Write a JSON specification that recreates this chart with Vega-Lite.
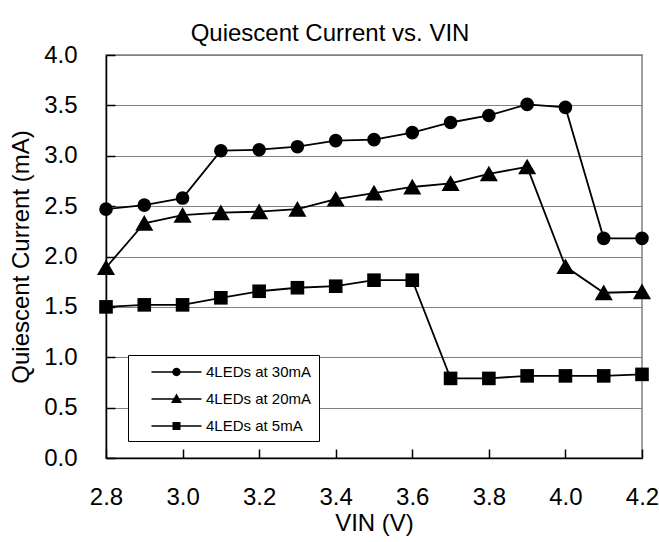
{
  "$schema": "https://vega.github.io/schema/vega-lite/v6.json",
  "autosize": {"type": "none"},
  "width": 536,
  "height": 403,
  "padding": {"left": 106, "top": 55, "right": 17, "bottom": 84},
  "background": "white",
  "title": {
    "text": "Quiescent Current vs. VIN",
    "fontSize": 24,
    "fontWeight": "normal",
    "font": "Liberation Sans",
    "color": "black",
    "anchor": "middle",
    "frame": "group",
    "dx": -44,
    "dy": 15,
    "offset": 12
  },
  "config": {
    "view": {"stroke": "#a0a0a0", "strokeWidth": 2},
    "axis": {
      "labelFont": "Liberation Sans",
      "titleFont": "Liberation Sans",
      "labelFontSize": 24,
      "titleFontSize": 24,
      "titleFontWeight": "normal",
      "labelColor": "black",
      "titleColor": "black",
      "domainColor": "black",
      "domainWidth": 1.5,
      "tickColor": "black",
      "tickWidth": 1.5,
      "gridColor": "#808080",
      "gridWidth": 1
    }
  },
  "data": {
    "values": [
      {"V": 2.8, "I": 2.47, "series": "4LEDs at 30mA"},
      {"V": 2.9, "I": 2.51, "series": "4LEDs at 30mA"},
      {"V": 3.0, "I": 2.58, "series": "4LEDs at 30mA"},
      {"V": 3.1, "I": 3.05, "series": "4LEDs at 30mA"},
      {"V": 3.2, "I": 3.06, "series": "4LEDs at 30mA"},
      {"V": 3.3, "I": 3.09, "series": "4LEDs at 30mA"},
      {"V": 3.4, "I": 3.15, "series": "4LEDs at 30mA"},
      {"V": 3.5, "I": 3.16, "series": "4LEDs at 30mA"},
      {"V": 3.6, "I": 3.23, "series": "4LEDs at 30mA"},
      {"V": 3.7, "I": 3.33, "series": "4LEDs at 30mA"},
      {"V": 3.8, "I": 3.40, "series": "4LEDs at 30mA"},
      {"V": 3.9, "I": 3.51, "series": "4LEDs at 30mA"},
      {"V": 4.0, "I": 3.48, "series": "4LEDs at 30mA"},
      {"V": 4.1, "I": 2.18, "series": "4LEDs at 30mA"},
      {"V": 4.2, "I": 2.18, "series": "4LEDs at 30mA"},
      {"V": 2.8, "I": 1.89, "series": "4LEDs at 20mA"},
      {"V": 2.9, "I": 2.33, "series": "4LEDs at 20mA"},
      {"V": 3.0, "I": 2.41, "series": "4LEDs at 20mA"},
      {"V": 3.1, "I": 2.435, "series": "4LEDs at 20mA"},
      {"V": 3.2, "I": 2.445, "series": "4LEDs at 20mA"},
      {"V": 3.3, "I": 2.47, "series": "4LEDs at 20mA"},
      {"V": 3.4, "I": 2.57, "series": "4LEDs at 20mA"},
      {"V": 3.5, "I": 2.63, "series": "4LEDs at 20mA"},
      {"V": 3.6, "I": 2.69, "series": "4LEDs at 20mA"},
      {"V": 3.7, "I": 2.725, "series": "4LEDs at 20mA"},
      {"V": 3.8, "I": 2.82, "series": "4LEDs at 20mA"},
      {"V": 3.9, "I": 2.89, "series": "4LEDs at 20mA"},
      {"V": 4.0, "I": 1.90, "series": "4LEDs at 20mA"},
      {"V": 4.1, "I": 1.64, "series": "4LEDs at 20mA"},
      {"V": 4.2, "I": 1.65, "series": "4LEDs at 20mA"},
      {"V": 2.8, "I": 1.50, "series": "4LEDs at 5mA"},
      {"V": 2.9, "I": 1.52, "series": "4LEDs at 5mA"},
      {"V": 3.0, "I": 1.52, "series": "4LEDs at 5mA"},
      {"V": 3.1, "I": 1.59, "series": "4LEDs at 5mA"},
      {"V": 3.2, "I": 1.655, "series": "4LEDs at 5mA"},
      {"V": 3.3, "I": 1.69, "series": "4LEDs at 5mA"},
      {"V": 3.4, "I": 1.705, "series": "4LEDs at 5mA"},
      {"V": 3.5, "I": 1.765, "series": "4LEDs at 5mA"},
      {"V": 3.6, "I": 1.765, "series": "4LEDs at 5mA"},
      {"V": 3.7, "I": 0.79, "series": "4LEDs at 5mA"},
      {"V": 3.8, "I": 0.79, "series": "4LEDs at 5mA"},
      {"V": 3.9, "I": 0.815, "series": "4LEDs at 5mA"},
      {"V": 4.0, "I": 0.815, "series": "4LEDs at 5mA"},
      {"V": 4.1, "I": 0.815, "series": "4LEDs at 5mA"},
      {"V": 4.2, "I": 0.83, "series": "4LEDs at 5mA"}
    ]
  },
  "encoding": {
    "x": {
      "field": "V",
      "type": "quantitative",
      "scale": {"domain": [2.8, 4.2], "nice": false, "zero": false},
      "axis": {
        "title": "VIN (V)",
        "values": [2.8, 3.0, 3.2, 3.4, 3.6, 3.8, 4.0, 4.2],
        "format": ".1f",
        "grid": false,
        "ticks": true,
        "tickSize": -9,
        "labelPadding": 36,
        "labelFlush": false,
        "labelOverlap": false,
        "titlePadding": 2
      }
    },
    "y": {
      "field": "I",
      "type": "quantitative",
      "scale": {"domain": [0, 4], "nice": false},
      "axis": {
        "title": "Quiescent Current (mA)",
        "values": [0, 0.5, 1, 1.5, 2, 2.5, 3, 3.5, 4],
        "format": ".1f",
        "grid": true,
        "ticks": true,
        "tickSize": -9,
        "labelPadding": 38,
        "labelOverlap": false,
        "titlePadding": 10
      }
    }
  },
  "resolve": {"scale": {"shape": "independent"}, "legend": {"shape": "independent"}},
  "layer": [
    {
      "mark": {"type": "line", "color": "black", "strokeWidth": 1.8},
      "encoding": {"detail": {"field": "series", "type": "nominal"}}
    },
    {
      "mark": {"type": "point", "filled": true, "opacity": 1, "color": "black", "size": 185},
      "encoding": {
        "shape": {
          "field": "series",
          "type": "nominal",
          "scale": {
            "domain": ["4LEDs at 30mA", "4LEDs at 20mA", "4LEDs at 5mA"],
            "range": ["circle", "M0 -1.2L1.33 1.1L-1.33 1.1Z", "square"]
          },
          "legend": null
        }
      }
    },
    {
      "mark": {"type": "point", "filled": true, "opacity": 0, "color": "black"},
      "encoding": {
        "shape": {
          "field": "series",
          "type": "nominal",
          "scale": {
            "domain": ["4LEDs at 30mA", "4LEDs at 20mA", "4LEDs at 5mA"],
            "range": [
              "M0.65 -0.08H5.65V0.08H0.65ZM2.73 0A0.42 0.42 0 1 1 3.57 0A0.42 0.42 0 1 1 2.73 0Z",
              "M0.65 -0.08H5.65V0.08H0.65ZM3.15 -0.55L3.7 0.4L2.6 0.4Z",
              "M0.65 -0.08H5.65V0.08H0.65ZM2.75 -0.4H3.55V0.4H2.75Z"
            ]
          },
          "legend": {
            "title": null,
            "orient": "none",
            "legendX": 22,
            "legendY": 300,
            "padding": 7,
            "strokeColor": "black",
            "fillColor": "white",
            "cornerRadius": 0,
            "symbolSize": 400,
            "rowPadding": 9,
            "labelOffset": 51,
            "labelFont": "Liberation Sans",
            "labelFontSize": 15,
            "labelColor": "black",
            "labelLimit": 300,
            "symbolFillColor": "black",
            "symbolStrokeColor": "black",
            "symbolStrokeWidth": 0,
            "symbolOpacity": 1
          }
        }
      }
    }
  ]
}
